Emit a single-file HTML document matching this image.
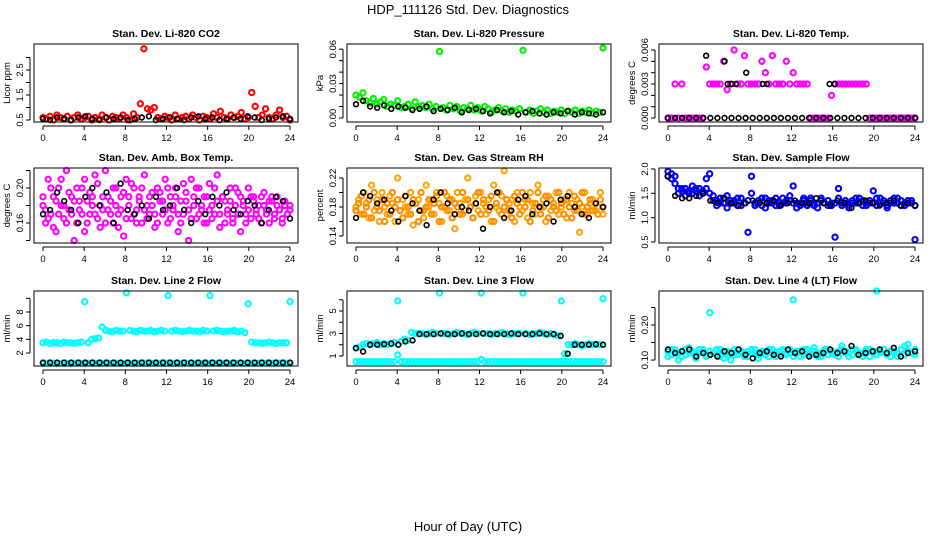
<!DOCTYPE html>
<html><head><meta charset="utf-8">
<style>
body{margin:0;background:#fff;}
svg{display:block;font-family:"Liberation Sans",Arial,sans-serif;}
</style></head>
<body>
<svg id="fig" width="936" height="540" viewBox="0 0 936 540" xmlns="http://www.w3.org/2000/svg">
<rect width="936" height="540" fill="#fff"/>
<text x="468" y="14" font-size="13" text-anchor="middle">HDP_111126  Std. Dev. Diagnostics</text>
<text x="468" y="531" font-size="13" text-anchor="middle">Hour of Day (UTC)</text>
</svg>
<script>
const xTicks=[0,4,8,12,16,20,24];
// Panel 1: CO2
const co2Red=[0.6,0.55,0.65,0.5,0.7,0.6,0.55,0.65,0.5,0.6,0.7,0.55,0.6,0.65,0.5,0.6,0.55,0.7,0.6,0.5,0.65,0.6,0.55,0.7,0.6,0.5,0.75,0.6,1.15,3.35,0.95,0.9,1.0,0.6,0.55,0.65,0.6,0.5,0.7,0.55,0.6,0.65,0.55,0.7,0.6,0.5,0.65,0.6,0.55,0.75,0.6,0.85,0.6,0.55,0.7,0.6,0.65,0.8,0.55,0.6,1.6,1.05,0.6,0.7,0.95,0.6,0.55,0.7,0.9,0.6,0.65,0.5];
const co2Black=[0.55,0.5,0.6,0.55,0.5,0.6,0.65,0.55,0.5,0.6,0.55,0.6,0.5,0.55,0.6,0.65,0.5,0.55,0.6,0.55,0.5,0.6,0.65,0.55,0.6,0.5,0.55,0.6,0.55,0.65,0.6,0.5,0.55,0.6,0.65,0.55];
// Panel 2: pressure
const presGreen=[0.02,0.018,0.022,0.015,0.013,0.017,0.012,0.014,0.016,0.01,0.012,0.011,0.015,0.009,0.01,0.012,0.008,0.014,0.01,0.011,0.009,0.012,0.008,0.01,0.058,0.009,0.007,0.011,0.008,0.01,0.006,0.009,0.008,0.011,0.007,0.009,0.006,0.01,0.008,0.005,0.007,0.009,0.006,0.008,0.005,0.007,0.006,0.008,0.059,0.005,0.007,0.004,0.006,0.008,0.005,0.007,0.004,0.006,0.005,0.007,0.004,0.006,0.005,0.007,0.004,0.006,0.005,0.007,0.004,0.006,0.005,0.061];
const presBlack=[0.012,0.015,0.01,0.009,0.011,0.008,0.01,0.009,0.007,0.008,0.01,0.006,0.008,0.007,0.009,0.005,0.007,0.008,0.006,0.004,0.007,0.005,0.006,0.003,0.005,0.006,0.004,0.003,0.005,0.004,0.006,0.003,0.005,0.004,0.003,0.005];
// Panel 3: temp
const tempMag=[0,0,0.003,0,0.003,0,0,0,0,0,0,0.0045,0.003,0.003,0.003,0.003,0.005,0.0025,0.003,0.006,0.003,0.003,0.0055,0.003,0.003,0.003,0.003,0.005,0.004,0.003,0.0055,0.003,0.003,0.003,0.005,0.003,0.004,0.003,0.003,0.003,0.003,0,0,0,0,0,0,0.002,0.003,0.003,0.003,0.003,0.003,0.003,0.003,0.003,0.003,0.003,0,0,0,0,0,0,0,0,0,0,0,0,0,0];
const tempBlack=[0,0,0,0,0,0,0,0,0,0,0,0,0,0,0,0,0,0,0,0,0,0,0,0,0,0,0,0,0,0,0,0,0,0,0,0];
const tempBlackExtraHours=[3.7,5.5,7.6,5.8,6.2,6.6,9.2,9.6,15.7,16.2];
const tempBlackExtra=[0.0055,0.005,0.004,0.003,0.003,0.003,0.003,0.003,0.003,0.003];
// Panel 4: amb box temp
const ambMagA=[0.18,0.16,0.21,0.17,0.19,0.15,0.2,0.18,0.165,0.22,0.175,0.19,0.14,0.2,0.185,0.17,0.21,0.16,0.195,0.18,0.17,0.205,0.155,0.19,0.22,0.175,0.185,0.16,0.2,0.17,0.19,0.145,0.21,0.18,0.165,0.2,0.175,0.19,0.16,0.215,0.18,0.17,0.195,0.155,0.2,0.185,0.17,0.21,0.16,0.19,0.175,0.2,0.15,0.185,0.17,0.195,0.14,0.21,0.18,0.165,0.2,0.175,0.19,0.16,0.205,0.18,0.17,0.215,0.155,0.19,0.185,0.17,0.2,0.16,0.18,0.195,0.15,0.185,0.17,0.2,0.165,0.19,0.175,0.18,0.16,0.195,0.17,0.185,0.19,0.165,0.18,0.175,0.16,0.185,0.17,0.18];
const ambMagB=[0.19,0.175,0.165,0.2,0.155,0.185,0.17,0.21,0.18,0.16,0.195,0.17,0.185,0.16,0.175,0.2,0.15,0.185,0.17,0.19,0.215,0.165,0.18,0.175,0.16,0.19,0.17,0.2,0.18,0.155,0.175,0.195,0.165,0.19,0.205,0.17,0.16,0.185,0.2,0.175,0.165,0.19,0.18,0.17,0.16,0.195,0.185,0.175,0.2,0.165,0.18,0.19,0.17,0.16,0.205,0.185,0.175,0.165,0.19,0.2,0.17,0.18,0.16,0.19,0.175,0.165,0.2,0.185,0.17,0.19,0.16,0.175,0.185,0.165,0.2,0.17,0.19,0.18,0.16,0.175,0.19,0.185,0.17,0.165,0.19,0.18,0.175,0.16,0.185,0.17,0.19,0.175,0.165,0.18,0.17,0.175];
const ambBlack=[0.17,0.175,0.195,0.185,0.175,0.16,0.19,0.2,0.18,0.195,0.16,0.205,0.175,0.17,0.18,0.165,0.19,0.175,0.18,0.2,0.175,0.16,0.185,0.17,0.19,0.18,0.195,0.175,0.17,0.185,0.18,0.16,0.175,0.19,0.185,0.165];
// Panel 5: RH
const rhOrangeA=[0.18,0.19,0.17,0.2,0.185,0.165,0.21,0.175,0.19,0.16,0.2,0.18,0.17,0.195,0.185,0.16,0.22,0.175,0.19,0.18,0.17,0.2,0.155,0.185,0.19,0.175,0.165,0.21,0.18,0.19,0.17,0.2,0.185,0.16,0.18,0.195,0.175,0.19,0.15,0.2,0.185,0.17,0.19,0.22,0.18,0.165,0.195,0.175,0.2,0.185,0.17,0.19,0.16,0.21,0.18,0.175,0.195,0.23,0.17,0.185,0.19,0.16,0.2,0.18,0.175,0.19,0.165,0.2,0.185,0.17,0.21,0.18,0.19,0.16,0.195,0.175,0.185,0.2,0.17,0.18,0.19,0.165,0.2,0.185,0.175,0.19,0.145,0.18,0.2,0.17,0.185,0.19,0.175,0.18,0.2,0.17];
const rhOrangeB=[0.175,0.185,0.195,0.17,0.18,0.19,0.165,0.2,0.18,0.175,0.19,0.16,0.185,0.17,0.2,0.18,0.19,0.175,0.165,0.195,0.18,0.17,0.19,0.185,0.16,0.2,0.175,0.18,0.19,0.17,0.185,0.195,0.16,0.18,0.2,0.175,0.19,0.165,0.185,0.18,0.17,0.2,0.175,0.19,0.18,0.165,0.185,0.2,0.17,0.19,0.18,0.175,0.195,0.16,0.185,0.2,0.17,0.18,0.19,0.175,0.165,0.195,0.185,0.17,0.2,0.18,0.19,0.16,0.175,0.185,0.2,0.17,0.18,0.195,0.165,0.19,0.18,0.175,0.2,0.185,0.17,0.19,0.18,0.165,0.195,0.175,0.185,0.2,0.17,0.18,0.19,0.175,0.185,0.17,0.19,0.18];
const rhBlack=[0.165,0.2,0.195,0.185,0.19,0.175,0.16,0.195,0.185,0.175,0.155,0.19,0.2,0.185,0.17,0.18,0.175,0.185,0.15,0.18,0.2,0.165,0.175,0.19,0.195,0.17,0.18,0.185,0.16,0.19,0.195,0.18,0.17,0.165,0.185,0.18];
// Panel 6: sample flow
const flowBlueA=[1.95,1.9,1.85,1.6,1.55,1.6,1.5,1.65,1.55,1.6,1.5,1.8,1.9,1.45,1.35,1.4,1.3,1.45,1.3,1.35,1.25,1.4,1.3,0.7,1.85,1.3,1.35,1.25,1.4,1.3,1.35,1.25,1.3,1.4,1.3,1.35,1.65,1.3,1.25,1.35,1.3,1.4,1.25,1.3,1.35,1.3,1.25,1.3,0.6,1.6,1.3,1.35,1.25,1.3,1.4,1.3,1.35,1.25,1.3,1.55,1.4,1.3,1.35,1.25,1.3,1.4,1.3,1.35,1.25,1.3,1.35,0.55];
const flowBlueB=[1.85,1.8,1.7,1.5,1.6,1.45,1.55,1.5,1.6,1.45,1.55,1.6,1.5,1.35,1.25,1.3,1.4,1.2,1.35,1.3,1.4,1.25,1.3,1.35,1.5,1.25,1.3,1.4,1.2,1.35,1.3,1.4,1.25,1.3,1.35,1.45,1.3,1.2,1.3,1.4,1.25,1.35,1.3,1.2,1.4,1.3,1.35,1.25,1.3,1.4,1.25,1.3,1.2,1.35,1.3,1.4,1.25,1.3,1.35,1.3,1.25,1.4,1.3,1.2,1.35,1.3,1.4,1.25,1.3,1.35,1.3,1.25];
const flowBlack=[1.85,1.45,1.4,1.4,1.45,1.5,1.35,1.3,1.4,1.3,1.25,1.3,1.35,1.3,1.3,1.35,1.25,1.3,1.35,1.3,1.3,1.4,1.3,1.25,1.35,1.3,1.2,1.3,1.35,1.3,1.25,1.3,1.35,1.25,1.3,1.25];
// Panel 7: Line 2
const l2CyanUp=[3.5,3.6,3.4,3.5,3.5,3.4,3.6,3.5,3.5,3.4,3.5,3.6,9.5,3.5,4.0,4.1,4.2,5.8,5.3,5.2,5.1,5.3,5.2,5.2,10.8,5.3,5.2,5.1,5.3,5.2,5.2,5.3,5.1,5.2,5.3,5.2,10.4,5.2,5.3,5.2,5.1,5.2,5.3,5.2,5.2,5.1,5.3,5.2,10.4,5.2,5.3,5.2,5.1,5.2,5.2,5.3,5.1,5.2,5.0,9.2,3.6,3.5,3.5,3.4,3.5,3.6,3.5,3.4,3.5,3.5,3.5,9.5];
const l2CyanLow=[0.5,0.5,0.5,0.5,0.5,0.5,0.5,0.5,0.5,0.5,0.5,0.5,0.5,0.5,0.5,0.5,0.5,0.5,0.5,0.5,0.5,0.5,0.5,0.5,0.5,0.5,0.5,0.5,0.5,0.5,0.5,0.5,0.5,0.5,0.5,0.5,0.5,0.5,0.5,0.5,0.5,0.5,0.5,0.5,0.5,0.5,0.5,0.5,0.5,0.5,0.5,0.5,0.5,0.5,0.5,0.5,0.5,0.5,0.5,0.5,0.5,0.5,0.5,0.5,0.5,0.5,0.5,0.5,0.5,0.5,0.5,0.5];
const l2Black=[0.6,0.6,0.6,0.6,0.6,0.6,0.6,0.6,0.6,0.6,0.6,0.6,0.6,0.6,0.6,0.6,0.6,0.6,0.6,0.6,0.6,0.6,0.6,0.6,0.6,0.6,0.6,0.6,0.6,0.6,0.6,0.6,0.6,0.6,0.6,0.6];
// Panel 8: Line 3
const l3CyanUp=[1.7,1.8,2.0,2.1,2.0,2.1,2.2,2.0,2.1,2.0,2.1,2.2,5.9,2.3,2.5,2.4,3.1,3.0,3.0,3.0,2.9,3.0,3.1,3.0,6.6,3.0,3.0,2.9,3.0,3.1,3.0,3.0,2.9,3.0,3.1,3.0,6.6,3.0,3.0,2.9,3.0,3.0,3.1,3.0,2.9,3.0,3.0,3.0,6.6,3.0,2.9,3.0,3.0,3.1,3.0,2.9,3.0,2.9,2.8,5.9,1.2,2.0,2.0,2.1,2.0,1.9,2.0,2.1,2.0,2.0,2.0,6.1];
const l3CyanLow=[0.5,0.5,0.5,0.5,0.5,0.5,0.5,0.5,0.5,0.5,0.5,0.5,1.1,0.5,0.5,0.5,0.5,0.5,0.5,0.5,0.5,0.5,0.5,0.5,0.5,0.5,0.5,0.5,0.5,0.5,0.5,0.5,0.5,0.5,0.5,0.5,0.7,0.5,0.5,0.5,0.5,0.5,0.5,0.5,0.5,0.5,0.5,0.5,0.5,0.5,0.5,0.5,0.5,0.5,0.5,0.5,0.5,0.5,0.5,0.5,0.5,0.5,0.5,0.5,0.5,0.5,0.5,0.5,0.5,0.5,0.5,0.5];
const l3Black=[1.7,1.4,2.0,2.0,2.05,2.1,2.0,2.3,2.4,2.95,2.95,2.95,3.0,2.95,2.95,3.0,2.95,2.95,3.0,2.95,2.95,2.95,3.0,2.95,2.95,2.95,3.0,2.95,2.95,2.8,1.2,2.0,2.0,2.0,2.05,2.0];
// Panel 9: Line 4
const l4CyanA=[0.11,0.13,0.12,0.1,0.125,0.115,0.135,0.12,0.105,0.13,0.12,0.115,0.235,0.12,0.13,0.11,0.125,0.12,0.1,0.13,0.115,0.125,0.12,0.11,0.13,0.12,0.105,0.125,0.115,0.13,0.12,0.11,0.125,0.13,0.115,0.12,0.272,0.125,0.11,0.13,0.12,0.115,0.135,0.12,0.11,0.125,0.13,0.12,0.115,0.125,0.14,0.12,0.11,0.13,0.125,0.115,0.12,0.13,0.11,0.125,0.297,0.12,0.13,0.115,0.125,0.12,0.11,0.13,0.14,0.145,0.12,0.115];
const l4CyanB=[0.125,0.115,0.13,0.12,0.11,0.13,0.12,0.125,0.115,0.12,0.13,0.11,0.125,0.12,0.115,0.13,0.105,0.125,0.12,0.115,0.13,0.12,0.11,0.125,0.12,0.13,0.115,0.12,0.125,0.11,0.13,0.12,0.115,0.125,0.12,0.13,0.11,0.12,0.125,0.115,0.13,0.12,0.125,0.11,0.12,0.13,0.115,0.125,0.12,0.11,0.13,0.125,0.12,0.115,0.13,0.12,0.11,0.125,0.13,0.12,0.115,0.125,0.13,0.12,0.11,0.125,0.12,0.13,0.115,0.125,0.12,0.13];
const l4Black=[0.13,0.12,0.125,0.13,0.11,0.12,0.115,0.11,0.125,0.12,0.13,0.115,0.105,0.12,0.125,0.115,0.11,0.13,0.12,0.125,0.11,0.115,0.12,0.13,0.12,0.125,0.14,0.115,0.12,0.125,0.13,0.12,0.135,0.11,0.12,0.125];

const colL=[34,347,659], colR=[298,611,923];
const rowT=[44,168,291], rowB=[122,243,366];
const panels=[
 {name:'co2',title:'Stan. Dev. Li-820 CO2',ylab:'Licor ppm',c:0,r:0,ylo:0.42,yhi:3.54,ticks:[0.5,1,1.5,2,2.5,3],labels:[0.5,1.5,2.5],dec:1,
  series:[{v:co2Red,col:'#ff0000'},{v:co2Black,col:'#000'}]},
 {name:'pressure',title:'Stan. Dev. Li-820 Pressure',ylab:'kPa',c:1,r:0,ylo:-0.0035,yhi:0.0645,ticks:[0,0.01,0.02,0.03,0.04,0.05,0.06],labels:[0,0.03,0.06],dec:2,
  series:[{v:presGreen,col:'#00ee00'},{v:presBlack,col:'#000'}]},
 {name:'temp',title:'Stan. Dev. Li-820 Temp.',ylab:'degrees C',c:2,r:0,ylo:-0.00035,yhi:0.00653,ticks:[0,0.001,0.002,0.003,0.004,0.005,0.006],labels:[0,0.003,0.006],dec:3,
  series:[{v:tempMag,col:'#ff00ff'},{v:tempBlack,col:'#000'},{v:tempBlackExtra,h:tempBlackExtraHours,col:'#000'}]},
 {name:'amb-box-temp',title:'Stan. Dev. Amb. Box Temp.',ylab:'degrees C',c:0,r:1,ylo:0.1371,yhi:0.2229,ticks:[0.14,0.16,0.18,0.2,0.22],labels:[0.16,0.2],dec:2,
  series:[{v:ambMagA,col:'#ff00ff'},{v:ambMagB,col:'#ff00ff'},{v:ambBlack,col:'#000'}]},
 {name:'gas-rh',title:'Stan. Dev. Gas Stream RH',ylab:'percent',c:1,r:1,ylo:0.1303,yhi:0.2338,ticks:[0.14,0.16,0.18,0.2,0.22],labels:[0.14,0.18,0.22],dec:2,
  series:[{v:rhOrangeA,col:'#ffa500'},{v:rhOrangeB,col:'#ff8c00'},{v:rhBlack,col:'#000'}]},
 {name:'sample-flow',title:'Stan. Dev. Sample Flow',ylab:'ml/min',c:2,r:1,ylo:0.48,yhi:2.02,ticks:[0.5,1,1.5,2],labels:[0.5,1,1.5,2],dec:1,
  series:[{v:flowBlueA,col:'#0000ff'},{v:flowBlueB,col:'#0000ff'},{v:flowBlack,col:'#000'}]},
 {name:'line2-flow',title:'Stan. Dev. Line 2 Flow',ylab:'ml/min',c:0,r:2,ylo:0.1,yhi:11.07,ticks:[2,4,6,8,10],labels:[2,4,6,8],dec:0,
  series:[{v:l2CyanUp,col:'#00ffff'},{v:l2CyanLow,col:'#00ffff'},{v:l2Black,col:'#000'}]},
 {name:'line3-flow',title:'Stan. Dev. Line 3 Flow',ylab:'ml/min',c:1,r:2,ylo:0.11,yhi:6.78,ticks:[1,2,3,4,5,6],labels:[1,3,5],dec:0,
  series:[{v:l3CyanUp,col:'#00ffff'},{v:l3CyanLow,col:'#00ffff'},{v:l3Black,col:'#000'}]},
 {name:'line4-flow',title:'Stan. Dev. Line 4 (LT) Flow',ylab:'ml/min',c:2,r:2,ylo:0.083,yhi:0.297,ticks:[0.1,0.15,0.2,0.25],labels:[0.1,0.2],dec:2,
  series:[{v:l4CyanA,col:'#00ffff'},{v:l4CyanB,col:'#00ffff'},{v:l4Black,col:'#000'}]}
];
const NS='http://www.w3.org/2000/svg';
const svg=document.getElementById('fig');
function mk(tag,attrs,parent){const e=document.createElementNS(NS,tag);for(const k in attrs)e.setAttribute(k,attrs[k]);(parent||svg).appendChild(e);return e;}
panels.forEach(p=>{
  const L=colL[p.c],R=colR[p.c],T=rowT[p.r],B=rowB[p.r];
  const x0=L+9,x1=R-8;
  const xs=h=>x0+(x1-x0)*h/24;
  const ys=v=>B-(v-p.ylo)/(p.yhi-p.ylo)*(B-T);
  const g=mk('g',{});
  
  
  const t=mk('text',{x:(L+R)/2,y:T-7,'font-size':'10.5','font-weight':'bold','text-anchor':'middle'},g);
  t.textContent=p.title;
  
  
  const marks=mk('g',{fill:'none'},g);
  
  
  p.series.forEach(s=>{
    const n=s.v.length;
    const black=s.col==='#000';
    s.v.forEach((v,i)=>{
      const h=s.h?s.h[i]:i*24/(n-1);
      const c=mk('circle',{cx:xs(h).toFixed(1),cy:ys(v).toFixed(1),r:black?'2.4':'2.6',stroke:s.col,'stroke-width':black?'1.6':'2.1'},marks);
      
      
    });
  });
  const box=mk('rect',{x:L,y:T,width:R-L,height:B-T,fill:'none',stroke:'#000','stroke-width':'1'},g);
  
  
  const ax=mk('g',{stroke:'#000','stroke-width':'1'},g);
  
  
  mk('line',{x1:x0,y1:B+4,x2:x1,y2:B+4},ax);
  xTicks.forEach(h=>{
    mk('line',{x1:xs(h),y1:B+4,x2:xs(h),y2:B+8},ax);
    const tl=mk('text',{x:xs(h),y:B+19,'font-size':'9.5','text-anchor':'middle',stroke:'none'},g);
    tl.textContent=h;
    
    
  });
  const yt0=ys(p.ticks[0]),yt1=ys(p.ticks[p.ticks.length-1]);
  mk('line',{x1:L-4,y1:yt0,x2:L-4,y2:yt1},ax);
  p.ticks.forEach(v=>{mk('line',{x1:L-4,y1:ys(v),x2:L-8,y2:ys(v)},ax);});
  p.labels.forEach(v=>{
    const y=ys(v),x=L-11;
    const tl=mk('text',{x:x,y:y,'font-size':'9.5','text-anchor':'middle',transform:`rotate(-90 ${x} ${y})`},g);
    tl.textContent=v.toFixed(p.dec);
    
    
  });
  const yx=L-24,yy=(T+B)/2;
  const yl=mk('text',{x:yx,y:yy,'font-size':'9.5','text-anchor':'middle',transform:`rotate(-90 ${yx} ${yy})`},g);
  yl.textContent=p.ylab;
  
  
});
</script>
</body></html>
